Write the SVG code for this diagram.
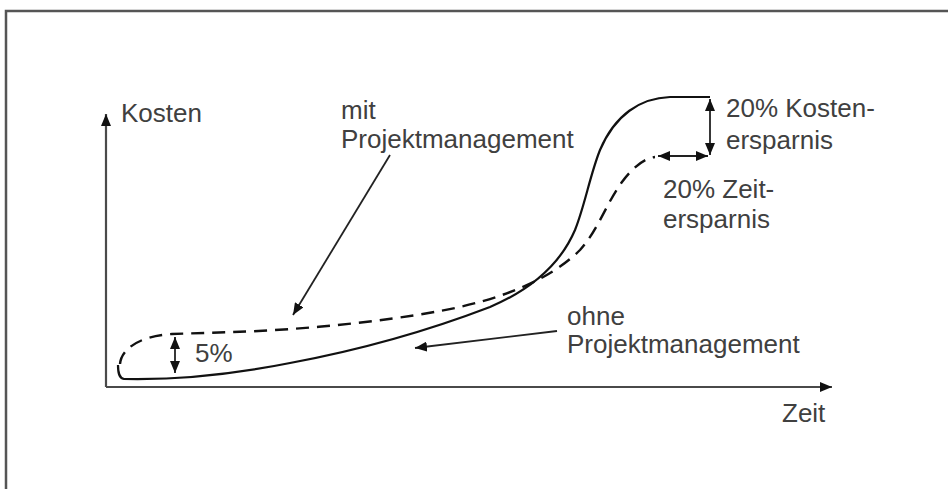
<svg xmlns="http://www.w3.org/2000/svg" width="948" height="489" viewBox="0 0 948 489">
<style>
.t{font-family:"Liberation Sans",Arial,sans-serif;font-size:26px;fill:#404040}
.ax{stroke:#4a4a4a;stroke-width:2.2;fill:none}
.cv{stroke:#111;stroke-width:2.2;fill:none}
.ds{stroke:#111;stroke-width:2.4;fill:none;stroke-dasharray:13 8}
.ar{stroke:#222;stroke-width:1.8;fill:none}
</style>
<defs>
<marker id="ah" viewBox="0 0 12 10" refX="12" refY="5" markerWidth="12" markerHeight="10" markerUnits="userSpaceOnUse" orient="auto-start-reverse">
<path d="M0,0 L12,5 L0,10 z" fill="#111"/>
</marker>
</defs>
<rect x="6" y="11" width="960" height="500" fill="#fff" stroke="#555" stroke-width="2.5"/>
<g id="axes">
<path class="ax" d="M106,387 L106,114" marker-end="url(#ah)"/>
<path class="ax" d="M106,387 L832,387" marker-end="url(#ah)"/>
<text class="t" x="121" y="122">Kosten</text>
<text class="t" x="782" y="422">Zeit</text>
</g>
<g id="curve-ohne">
<path class="cv" d="M118,365 C118,373 119,378 124,379 C170,380 230,375 290,363 C360,350 430,330 490,307 C530,290 560,265 575,230 C585,205 590,175 600,150 C615,115 640,98 670,97 L710,97"/>
</g>
<g id="curve-mit">
<path class="ds" d="M120,364 C121,350 138,336 172,334 L233,332 C300,330 380,322 440,311 C500,300 550,280 580,250 C598,230 606,204 622,182 C633,167 645,158 655,157"/>
</g>
<g id="label-mit">
<text class="t" x="341" y="119">mit</text>
<text class="t" x="341" y="148">Projektmanagement</text>
</g>
<g id="label-ohne">
<text class="t" x="567" y="325">ohne</text>
<text class="t" x="567" y="353">Projektmanagement</text>
</g>
<g id="label-5">
<text class="t" x="195" y="362">5%</text>
</g>
<g id="label-kosten">
<text class="t" x="726" y="117">20% Kosten-</text>
<text class="t" x="726" y="149">ersparnis</text>
</g>
<g id="label-zeit">
<text class="t" x="663" y="198">20% Zeit-</text>
<text class="t" x="663" y="228">ersparnis</text>
</g>
<g id="connectors">
<path class="ar" d="M390,155 L293,315" marker-end="url(#ah)"/>
<path class="ar" d="M557,331 L415,348" marker-end="url(#ah)"/>
<path class="ar" d="M175,337 L175,373" marker-start="url(#ah)" marker-end="url(#ah)"/>
<path class="ar" d="M710,99 L710,155" marker-start="url(#ah)" marker-end="url(#ah)"/>
<path class="ar" d="M658,156 L708,156" marker-start="url(#ah)" marker-end="url(#ah)"/>
</g>
</svg>
